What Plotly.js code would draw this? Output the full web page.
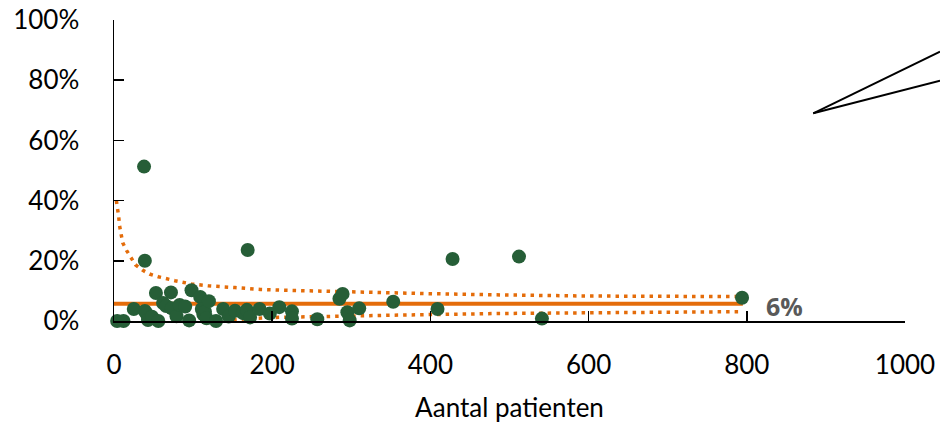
<!DOCTYPE html>
<html>
<head>
<meta charset="utf-8">
<script src="https://cdn.plot.ly/plotly-3.0.1.min.js"></script>
<style>html,body{margin:0;padding:0;background:#fff;}#chart{width:940px;height:425px;}</style>
</head>
<body>
<div id="chart"></div>
<script>
// Hospitals: number of patients and percentage
const patients = [4, 12, 25, 38, 39, 39, 41, 43, 48, 53, 56, 62, 66, 72, 73, 79, 83, 90, 95, 98,
  109, 111, 113, 115, 117, 120, 129, 138, 145, 153, 163, 168, 169, 172, 184, 197, 209, 225, 225,
  257, 285, 289, 295, 298, 310, 353, 409, 428, 512, 541, 794];
const percentages = [0.0, 0.0, 0.040, 0.513, 0.200, 0.033, 0.025, 0.003, 0.014, 0.093, 0.0, 0.060, 0.050, 0.095, 0.042, 0.016, 0.053, 0.048, 0.002, 0.102,
  0.080, 0.040, 0.022, 0.031, 0.009, 0.066, 0.0, 0.040, 0.015, 0.034, 0.026, 0.037, 0.236, 0.012, 0.040, 0.025, 0.046, 0.032, 0.008,
  0.006, 0.074, 0.090, 0.029, 0.002, 0.042, 0.064, 0.040, 0.206, 0.214, 0.008, 0.077];

// Overall mean
const meanX = [0, 795];
const meanY = [0.057, 0.057];
const meanLabel = "6%";

// Upper control limit
const upperX = [3, 5, 6, 7, 8.5, 11, 16, 21.5, 27, 36, 45, 56, 67, 77, 98, 119, 153, 185, 218, 260, 311, 369, 395, 480, 598, 795];
const upperY = [0.40, 0.372, 0.345, 0.317, 0.289, 0.26, 0.234, 0.209, 0.187, 0.169, 0.156, 0.147, 0.139, 0.134, 0.123, 0.117, 0.111, 0.105, 0.102, 0.099, 0.095, 0.092, 0.091, 0.087, 0.083, 0.081];

// Lower control limit
const lowerX = [140, 160, 205, 273, 369, 488, 598, 795];
const lowerY = [0.002, 0.006, 0.012, 0.016, 0.020, 0.025, 0.028, 0.031];

const xTicks = [0, 200, 400, 600, 800, 1000];
const yTicks = [0, 0.2, 0.4, 0.6, 0.8, 1.0];
const yTickLabels = ["0%", "20%", "40%", "60%", "80%", "100%"];
const xTitle = "Aantal patienten";

const ORANGE = "#E46C0A";
const GREEN = "#265E37";
const FONT = "Lato, 'Liberation Sans', sans-serif";

const traces = [
  {x: upperX, y: upperY, mode: "lines", line: {color: ORANGE, width: 3.5, dash: "3.5px,5px"}, hoverinfo: "skip", cliponaxis: false},
  {x: lowerX, y: lowerY, mode: "lines", line: {color: ORANGE, width: 3.5, dash: "3.5px,5px"}, hoverinfo: "skip", cliponaxis: false},
  {x: meanX, y: meanY, mode: "lines", line: {color: ORANGE, width: 4}, hoverinfo: "skip", cliponaxis: false},
  {x: patients, y: percentages, mode: "markers", marker: {color: GREEN, size: 14, line: {width: 0}}, cliponaxis: false}
];

const layout = {
  width: 940, height: 425,
  margin: {l: 114, r: 35, t: 20, b: 104},
  paper_bgcolor: "#fff", plot_bgcolor: "#fff",
  showlegend: false,
  font: {family: FONT, color: "#000", size: 26},
  xaxis: {
    range: [0, 1000], tickvals: xTicks, ticktext: xTicks.map(String),
    showgrid: false, zeroline: false,
    showline: true, linecolor: "#000", linewidth: 1.5,
    ticks: "inside", ticklen: 10, tickwidth: 1.5, tickcolor: "#000",
    tickfont: {family: FONT, size: 26, color: "#000"},
    ticklabelstandoff: 20,
    title: {text: xTitle, font: {family: FONT, size: 26, color: "#000"}, standoff: 20}
  },
  yaxis: {
    range: [0, 1], tickvals: yTicks, ticktext: yTickLabels,
    showgrid: false, zeroline: false,
    showline: true, linecolor: "#000", linewidth: 1.5,
    ticks: "inside", ticklen: 10, tickwidth: 1.5, tickcolor: "#000",
    tickfont: {family: FONT, size: 26, color: "#000"},
    ticklabelstandoff: 28
  },
  annotations: [{
    x: 822, y: meanY[0], xref: "x", yref: "y", xanchor: "left", yanchor: "middle",
    text: "<b>" + meanLabel + "</b>", showarrow: false, yshift: -2,
    font: {family: "'Open Sans', 'Liberation Sans', sans-serif", size: 25, color: "#595959"}
  }],
  shapes: [
    {type: "line", xref: "paper", yref: "paper", x0: 0.884, y0: 0.690, x1: 1.0443, y1: 0.8947, line: {color: "#000", width: 2}},
    {type: "line", xref: "paper", yref: "paper", x0: 0.884, y0: 0.690, x1: 1.0443, y1: 0.798, line: {color: "#000", width: 2}}
  ]
};

Plotly.newPlot("chart", traces, layout, {displayModeBar: false, staticPlot: true});
</script>
</body>
</html>
